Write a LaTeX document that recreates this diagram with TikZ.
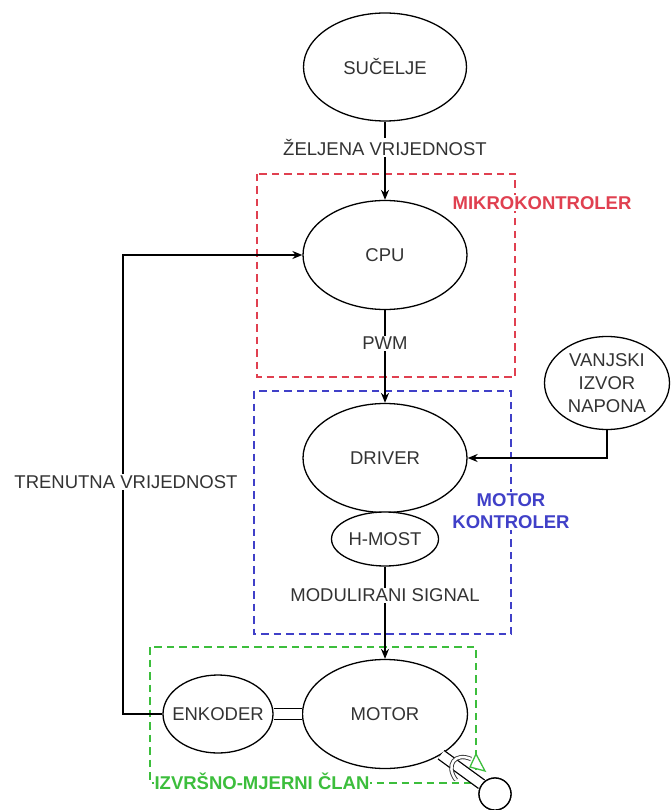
\documentclass[tikz,border=0pt]{standalone}
\usepackage{fontspec}
\setmainfont{Liberation Sans}
\usetikzlibrary{shapes.geometric,arrows.meta}
\definecolor{txtgray}{RGB}{51,51,51}
\definecolor{mkred}{RGB}{224,64,80}
\definecolor{mkblue}{RGB}{64,64,200}
\definecolor{mkgreen}{RGB}{60,190,60}
\tikzset{
  blob/.style={ellipse,draw=black,line width=1.3pt,fill=white,inner sep=0pt,text=txtgray},
  lbl/.style={fill=white,inner sep=1pt,text=txtgray},
  grp/.style={dash pattern=on 7.5pt off 5pt,line width=2.7pt},
  tag/.style={font=\fontsize{18.5}{22}\selectfont\bfseries,fill=white,inner sep=1pt,align=center},
  wire/.style={line width=1.3pt,draw=black},
  >={Stealth[length=10pt,width=8pt]}
}
\begin{document}
\begin{tikzpicture}[x=1pt,y=-1pt,font=\fontsize{18.5}{23}\selectfont]
\useasboundingbox (0,0) rectangle (670,810);
% grupe
\draw[grp,draw=mkred] (257,174) rectangle (515,377);
\draw[grp,draw=mkblue] (254,391) rectangle (511,634);
\draw[grp,draw=mkgreen] (150,647) rectangle (476,783);
% blokovi
\node[blob,minimum width=163pt,minimum height=108pt] (suc) at (385,67) {SUČELJE};
\node[blob,minimum width=164pt,minimum height=109pt] (cpu) at (385,255) {CPU};
\node[blob,minimum width=164pt,minimum height=109pt] (drv) at (385,458) {DRIVER};
\node[blob,minimum width=107pt,minimum height=54pt] (hb) at (385,539) {H-MOST};
\node[blob,minimum width=165pt,minimum height=109pt] (mot) at (385,714) {MOTOR};
\node[blob,minimum width=110pt,minimum height=78pt,inner xsep=-14pt] (enk) at (218,714) {ENKODER};
\node[blob,minimum width=125pt,minimum height=93pt,align=center] (van) at (607,383) {VANJSKI\\IZVOR\\NAPONA};
\coordinate (fbk) at (123,482);
% veze
\draw[wire,->] (suc) -- (cpu) node[lbl,pos=.33] (zelj) {ŽELJENA VRIJEDNOST};
\draw[wire,->] (cpu) -- (drv) node[lbl,pos=.36] (pwm) {PWM};
\draw[wire,->] (hb) -- (mot) node[lbl,pos=.31] (mod) {MODULIRANI SIGNAL};
\draw[wire,->] (van.south) |- (drv.east);
\draw[wire,->] (enk.west) -| (fbk) |- (cpu.west);
\node[lbl] (trn) at (126,482) {TRENUTNA VRIJEDNOST};
\draw[wire,double=white,double distance=10pt] (enk.east) -- (mot.west);
% osovina
\node[circle,draw=black,line width=1.3pt,fill=white,minimum size=32pt,inner sep=0pt] (whl) at (495,794) {};
\draw[wire,double=white,double distance=9pt] (mot.-36) -- (whl);
\node[circle,draw=black,line width=1.3pt,fill=white,minimum size=32pt,inner sep=0pt] at (whl) {};
\draw[line width=0.9pt,draw=txtgray,double=white,double distance=2.5pt] (456,780) .. controls (445,765) and (455,752) .. (471,759);
\draw[draw=mkgreen,line width=1.3pt,fill=white] (476,754) -- (485,771) -- (470,767) -- cycle;
% oznake grupa
\node[tag,text=mkred] (mk) at (542,203) {MIKROKONTROLER};
\node[tag,text=mkblue] (mc) at (511,511) {MOTOR\\KONTROLER};
\node[tag,text=mkgreen] (im) at (262,781) {IZVRŠNO-MJERNI ČLAN};
\end{tikzpicture}
\end{document}
